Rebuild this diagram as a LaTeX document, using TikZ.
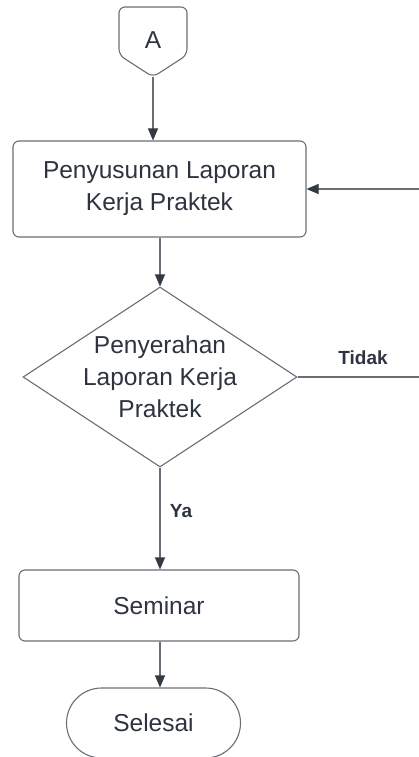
\documentclass[tikz,border=0pt]{standalone}
\usepackage{fontspec}
\setmainfont{Liberation Sans}
\usetikzlibrary{arrows.meta,shapes.geometric}
\definecolor{linec}{RGB}{105,110,118}
\definecolor{tipc}{RGB}{52,58,68}
\definecolor{txtc}{RGB}{45,52,64}
\tikzset{
  x=1pt,y=-1pt,
  shapebox/.style={draw=linec,line width=1.1pt,fill=white,inner sep=0pt},
  proc/.style={shapebox,rectangle,rounded corners=6pt},
  bigtxt/.style={text=txtc,font=\fontsize{24.5}{32}\selectfont,align=center,inner sep=0pt},
  lbl/.style={text=txtc,font=\fontsize{19}{22}\selectfont\bfseries,inner sep=0pt},
  conn/.style={draw=linec,line width=1.1pt,-{Triangle[length=12pt,width=10pt,color=tipc,fill=tipc]}},
  plain/.style={draw=linec,line width=1.1pt}
}
\begin{document}
\begin{tikzpicture}
\useasboundingbox (0,0) rectangle (419,757);
\clip (0,0) rectangle (419,757);
% off-page connector A
\draw[plain,rounded corners=6pt,fill=white] (153,77) -- (119,55) -- (119,7) -- (187,7) -- (187,55) -- cycle;
\node[bigtxt] (A) at (153,40) {A};
\coordinate (Abot) at (153,77);
% process box
\node[proc,minimum width=293pt,minimum height=96pt] (B1) at (159.5,189) {};
\node[bigtxt] (B1t) at (159.5,189) {Penyusunan Laporan\\Kerja Praktek};
% decision
\node[shapebox,diamond,minimum width=274pt,minimum height=180pt] (D) at (160,377) {};
\node[bigtxt] (Dt) at (160,377) {Penyerahan\\Laporan Kerja\\Praktek};
% seminar
\node[proc,minimum width=280pt,minimum height=71pt] (S) at (159,605.5) {};
\node[bigtxt] (St) at (159,605.5) {Seminar};
% terminator
\node[shapebox,rectangle,rounded corners=35pt,minimum width=174pt,minimum height=70pt] (E) at (153.5,723) {};
\node[bigtxt] (Et) at (153.5,723) {Selesai};
% connectors
\draw[conn] (Abot) -- (Abot |- B1.north);
\draw[conn] (B1.south -| D.north) -- (D.north);
\draw[conn] (D.south) -- (D.south |- S.north);
\draw[conn] (S.south -| D.south) -- (D.south |- E.north);
\coordinate (R1) at (432,377);
\coordinate (R2) at (432,189);
\draw[conn] (D.east) -- (R1) -- (R2) -- (B1.east);
% labels
\node[lbl] (Ltidak) at (363,358) {Tidak};
\node[lbl] (Lya) at (181,511) {Ya};
\end{tikzpicture}
\end{document}
